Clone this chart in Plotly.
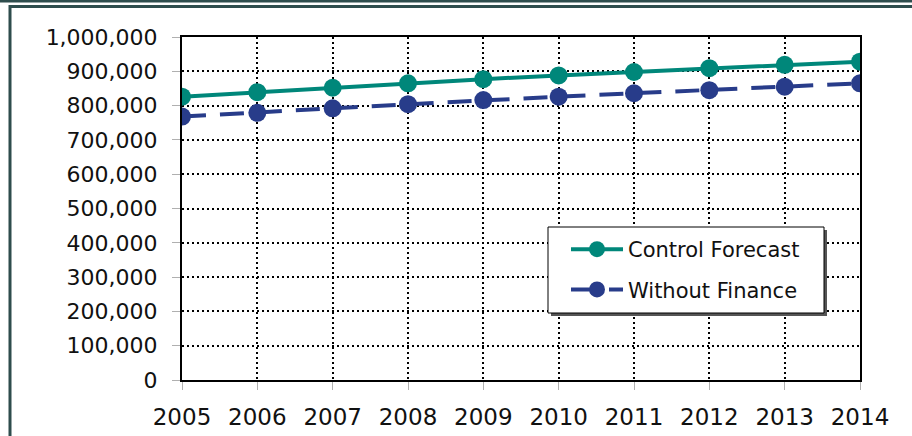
import plotly.graph_objects as go

years = [2005, 2006, 2007, 2008, 2009, 2010, 2011, 2012, 2013, 2014]
control_forecast = [826000, 839000, 852000, 865000, 877000, 888000, 898000, 909000, 919000, 928000]
without_finance = [768000, 779000, 792000, 804000, 816000, 826000, 836000, 845000, 855000, 865000]
y_ticks = [0, 100000, 200000, 300000, 400000, 500000, 600000, 700000, 800000, 900000, 1000000]
y_tick_text = [f"{v:,}" for v in y_ticks]

TEAL = "#00877A"
NAVY = "#283C8A"
FRAME = "#2E4D4D"

W, H = 912, 436
L, R, T, B = 182, 860, 37, 380


def px_x(x):
    return (x - L) / (R - L)


def px_y(y):
    return (B - y) / (B - T)


fig = go.Figure()
fig.add_trace(go.Scatter(
    x=years, y=control_forecast, name="Control Forecast", legendgroup="a",
    mode="lines+markers",
    line=dict(color=TEAL, width=4),
    marker=dict(color=TEAL, size=18),
))
fig.add_trace(go.Scatter(
    x=years, y=without_finance, name="Without Finance", legendgroup="b",
    mode="lines+markers",
    line=dict(color=NAVY, width=4, dash="24px,14px"),
    marker=dict(color=NAVY, size=18),
))

shapes = [
    # chart frame
    dict(type="rect", xref="paper", yref="paper",
         x0=px_x(0), x1=px_x(W), y0=px_y(0), y1=px_y(2.5),
         fillcolor=FRAME, line=dict(width=0), layer="below"),
    dict(type="rect", xref="paper", yref="paper",
         x0=px_x(10), x1=px_x(W + 20), y0=px_y(6.5), y1=px_y(H + 20),
         fillcolor="rgba(0,0,0,0)", line=dict(color=FRAME, width=3), layer="below"),
    # legend box with drop shadow
    dict(type="rect", xref="paper", yref="paper",
         x0=px_x(551), x1=px_x(827), y0=px_y(230), y1=px_y(316),
         fillcolor="#555555", line=dict(width=0), layer="above"),
    dict(type="rect", xref="paper", yref="paper",
         x0=px_x(548), x1=px_x(824), y0=px_y(227), y1=px_y(313),
         fillcolor="white", line=dict(color="black", width=1), layer="above"),
]

axis_common = dict(
    showline=True, linecolor="black", linewidth=2, mirror=True,
    showgrid=True, gridcolor="black", gridwidth=2, griddash="2px,3px",
    ticks="outside", ticklen=8, tickcolor="#b0b0b0", tickwidth=1,
    zeroline=False, automargin=False,
)

fig.update_layout(
    width=W, height=H,
    margin=dict(l=L, r=W - R, t=T, b=H - B, pad=0, autoexpand=False),
    paper_bgcolor="white", plot_bgcolor="white",
    showlegend=True,
    legend=dict(
        x=px_x(566), y=px_y(229), xanchor="left", yanchor="top",
        bgcolor="rgba(0,0,0,0)", borderwidth=0,
        font=dict(family="DejaVu Sans", size=21, color="#111111"),
        traceorder="grouped", tracegroupgap=10, itemwidth=52,
    ),
    xaxis=dict(
        axis_common, range=[2005, 2014], tickmode="array", tickvals=years,
        ticktext=[str(y) for y in years], ticklabelstandoff=7,
        tickfont=dict(family="DejaVu Sans", size=23, color="#111111"),
    ),
    yaxis=dict(
        axis_common, range=[0, 1000000], tickmode="array", tickvals=y_ticks,
        ticktext=y_tick_text, ticklabelstandoff=10,
        tickfont=dict(family="DejaVu Sans", size=22, color="#111111"),
    ),
    shapes=shapes,
)

fig.write_html("out.html")
